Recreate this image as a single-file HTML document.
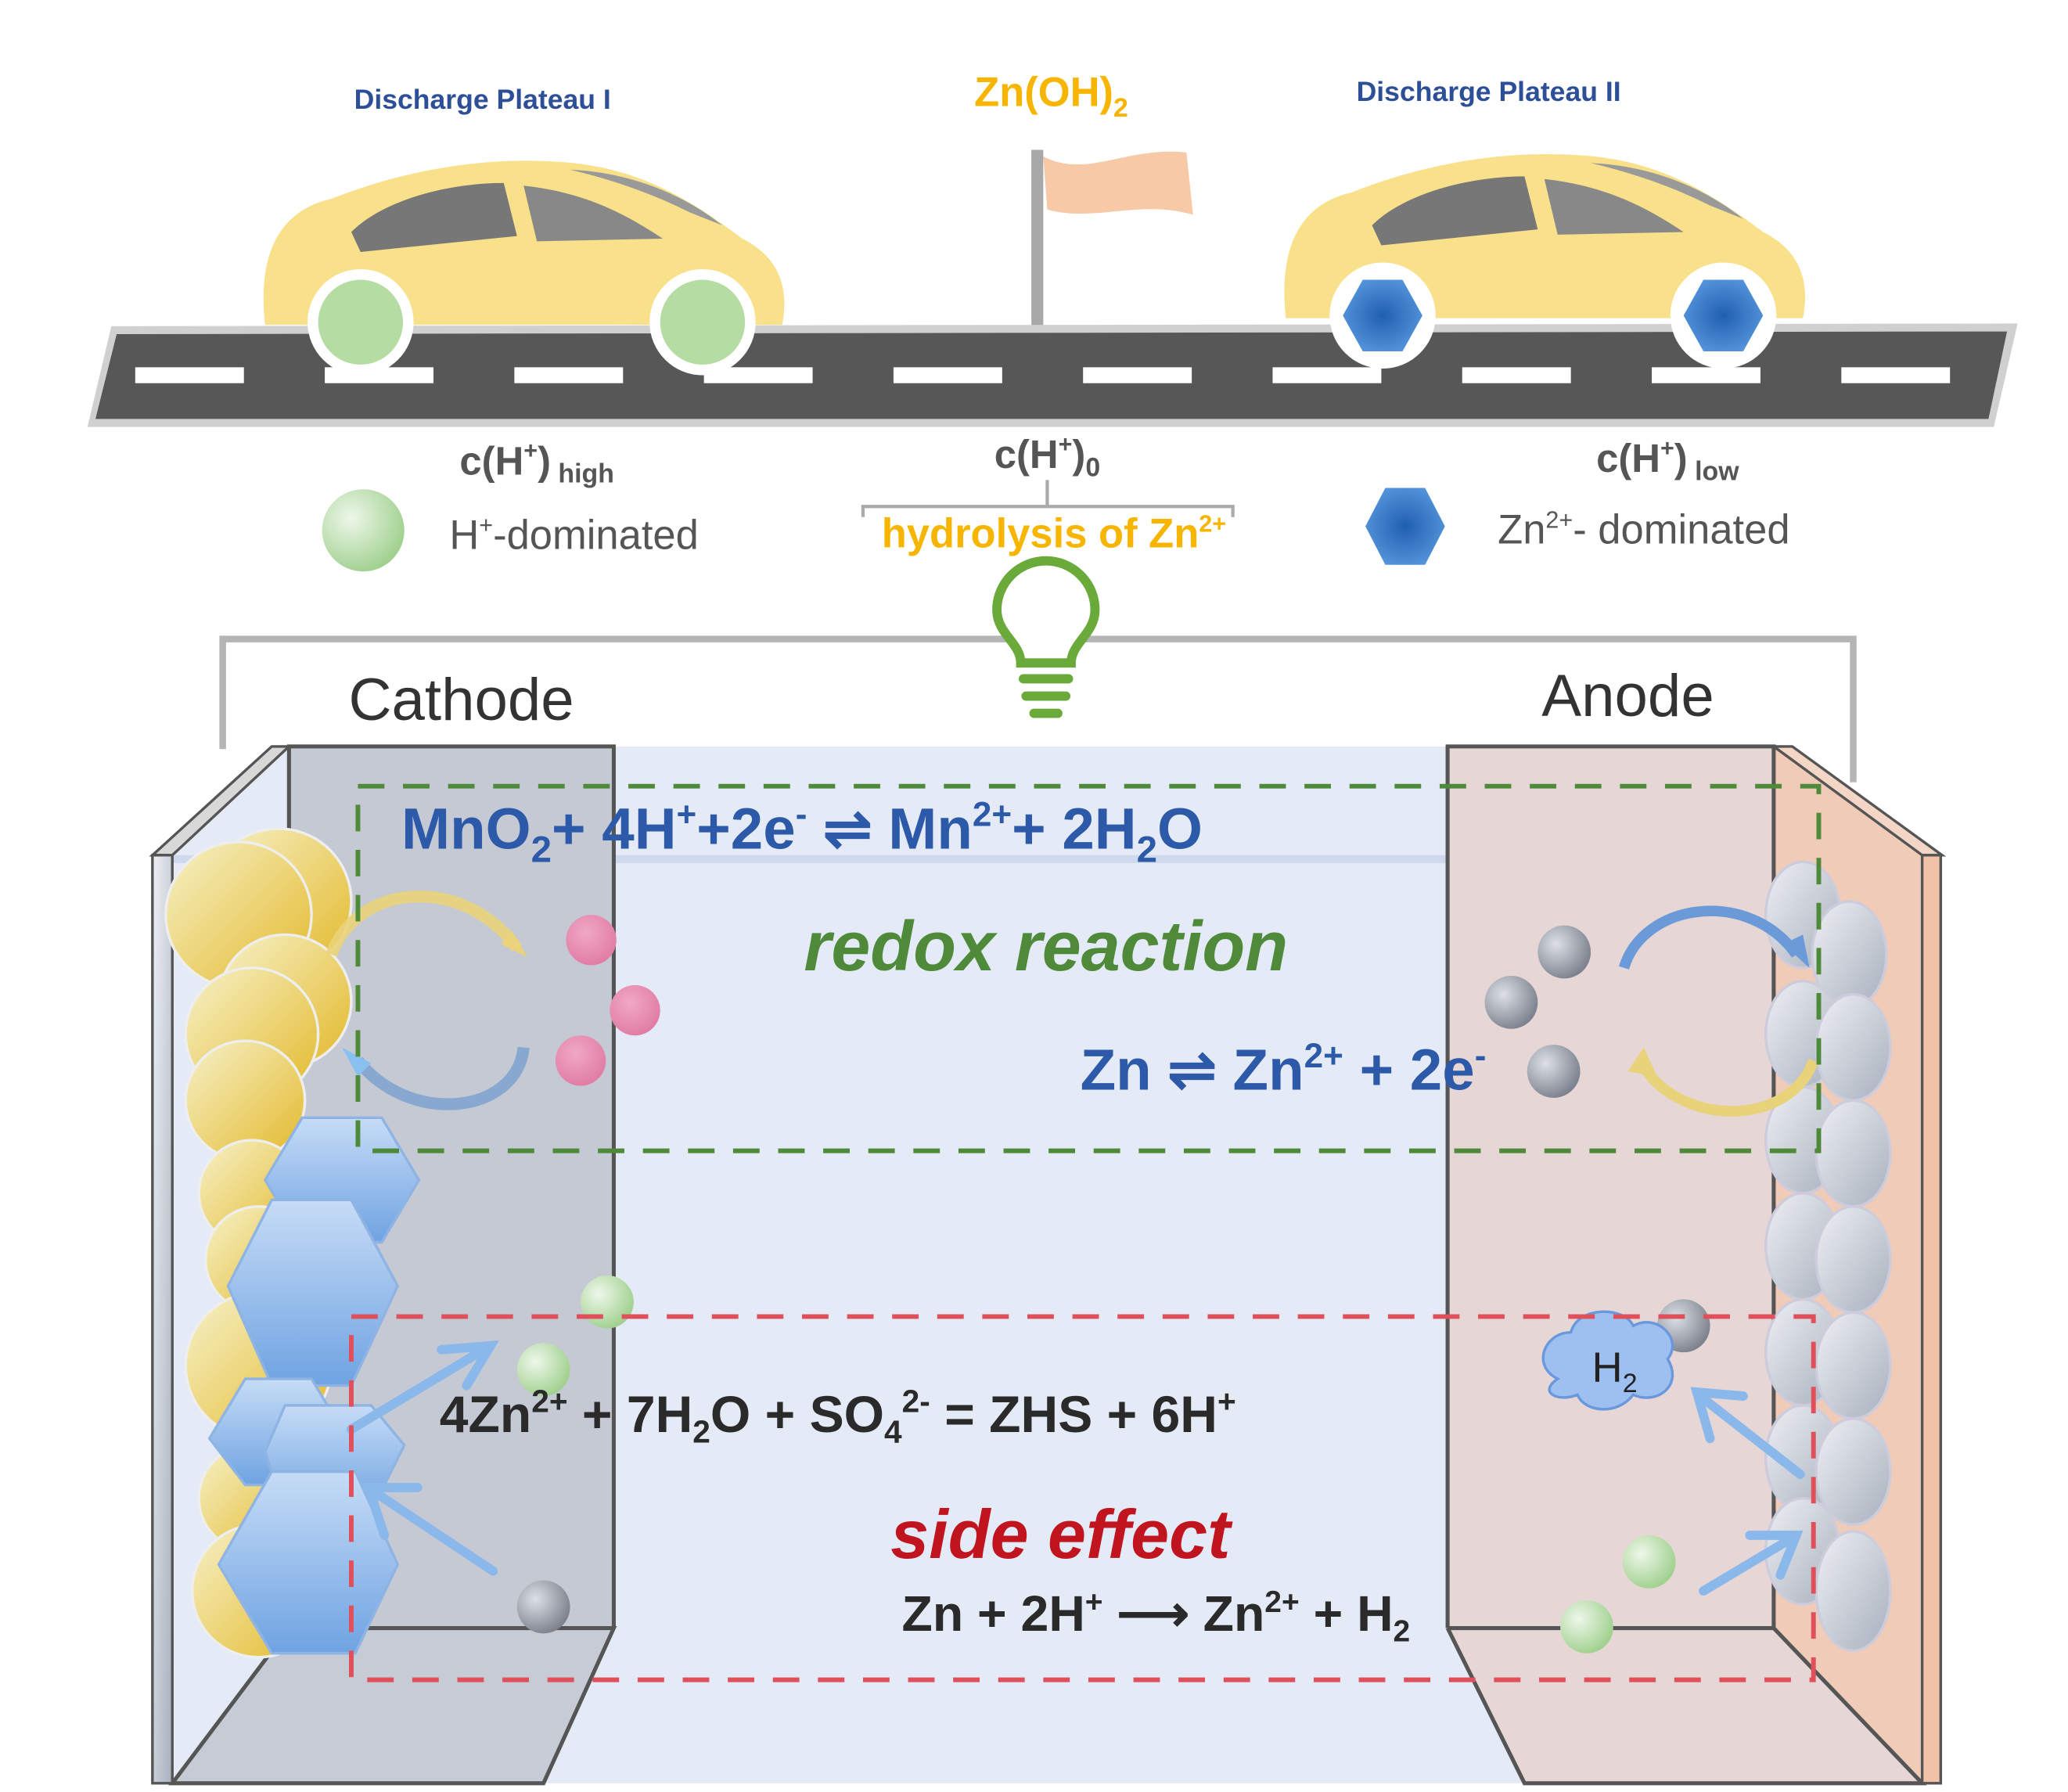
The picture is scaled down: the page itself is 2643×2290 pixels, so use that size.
<!DOCTYPE html>
<html><head><meta charset="utf-8"><style>
html,body{margin:0;padding:0;background:#fff;}
svg{display:block;}
text{font-family:"Liberation Sans",Arial,sans-serif;}
</style></head><body>
<svg width="2643" height="2290" viewBox="0 0 1560 1351.6" xmlns="http://www.w3.org/2000/svg">
<defs>
<radialGradient id="gG" cx="0.35" cy="0.35" r="0.7"><stop offset="0" stop-color="#eef7ea"/><stop offset="1" stop-color="#9fd08d"/></radialGradient>
<radialGradient id="gB" cx="0.5" cy="0.5" r="0.6"><stop offset="0" stop-color="#1f5fb0"/><stop offset="1" stop-color="#5a9ae0"/></radialGradient>
<radialGradient id="gP" cx="0.4" cy="0.35" r="0.7"><stop offset="0" stop-color="#f0a8c4"/><stop offset="1" stop-color="#e07aa4"/></radialGradient>
<radialGradient id="gK" cx="0.35" cy="0.35" r="0.7"><stop offset="0" stop-color="#dde0e6"/><stop offset="1" stop-color="#7a808c"/></radialGradient>
<linearGradient id="hexG" x1="0" y1="0" x2="0" y2="1"><stop offset="0" stop-color="#c6dcf6"/><stop offset="1" stop-color="#6fa3e2"/></linearGradient>
<linearGradient id="yel" x1="0" y1="0" x2="1" y2="1"><stop offset="0" stop-color="#f6f1c8"/><stop offset="1" stop-color="#e3b92a"/></linearGradient>
<linearGradient id="grs" x1="0" y1="0" x2="1" y2="1"><stop offset="0" stop-color="#eef0f4"/><stop offset="1" stop-color="#a8b0bd"/></linearGradient>
</defs>

<text x="364" y="82" font-size="21" font-weight="bold" fill="#2d4f98" text-anchor="middle">Discharge Plateau I</text>
<text x="793" y="80" font-size="31" font-weight="bold" fill="#f7b500" text-anchor="middle">Zn(OH)<tspan font-size="20" dy="8">2</tspan></text>
<text x="1123" y="76" font-size="21" font-weight="bold" fill="#2d4f98" text-anchor="middle">Discharge Plateau II</text>

<rect x="778" y="113" width="9" height="137" fill="#a8a8a8"/>
<path d="M787,118 C820,135 850,110 895,115 L900,162 C860,150 825,168 790,158 Z" fill="#f7c9a6"/>

<polygon points="66,322 84,246 1522,244 1504,322" fill="#d0d0d0"/>
<polygon points="72,316 88,252 1514,250 1500,316" fill="#575757"/>
<g fill="#fff">
<rect x="102" y="277" width="82" height="12"/><rect x="245" y="277" width="82" height="12"/><rect x="388" y="277" width="82" height="12"/><rect x="531" y="277" width="82" height="12"/><rect x="674" y="277" width="82" height="12"/><rect x="817" y="277" width="82" height="12"/><rect x="960" y="277" width="82" height="12"/><rect x="1103" y="277" width="82" height="12"/><rect x="1246" y="277" width="82" height="12"/><rect x="1389" y="277" width="82" height="12"/>
</g>

<g>
<path d="M200,245 C195,200 205,160 250,150 C300,130 360,118 420,122 C480,125 520,150 560,180 C590,195 595,220 590,245 Z" fill="#f9e08a"/>
<path d="M265,175 C290,150 340,138 380,138 L390,178 L272,190 Z" fill="#777"/>
<path d="M395,140 C440,145 470,160 500,180 L405,182 Z" fill="#888"/>
<path d="M430,128 C480,130 520,150 545,170 L520,160 C490,145 460,135 430,128Z" fill="#999"/>
<circle cx="272" cy="243" r="40" fill="#fff"/><circle cx="272" cy="243" r="32" fill="#b5dca2"/>
<circle cx="530" cy="243" r="40" fill="#fff"/><circle cx="530" cy="243" r="32" fill="#b5dca2"/>
</g>
<g>
<path d="M970,240 C965,195 975,155 1020,145 C1070,125 1130,113 1190,117 C1250,120 1290,145 1330,175 C1360,190 1365,215 1360,240 Z" fill="#f9e08a"/>
<path d="M1035,170 C1060,145 1110,133 1150,133 L1160,173 L1042,185 Z" fill="#777"/>
<path d="M1165,135 C1210,140 1240,155 1270,175 L1175,177 Z" fill="#888"/>
<path d="M1200,123 C1250,125 1290,145 1315,165 L1290,155 C1260,140 1230,130 1200,123Z" fill="#999"/>
<circle cx="1043" cy="238" r="40" fill="#fff"/>
<polygon points="1013,238 1028,211 1058,211 1073,238 1058,265 1028,265" fill="url(#gB)"/>
<circle cx="1300" cy="238" r="40" fill="#fff"/>
<polygon points="1270,238 1285,211 1315,211 1330,238 1315,265 1285,265" fill="url(#gB)"/>
</g>

<text x="405" y="358" font-size="30" font-weight="bold" fill="#555" text-anchor="middle">c(H<tspan font-size="18" dy="-12">+</tspan><tspan dy="12">)</tspan><tspan font-size="20" dy="6"> high</tspan></text>
<circle cx="274" cy="400" r="31" fill="url(#gG)"/>
<text x="433" y="414" font-size="31" fill="#555" text-anchor="middle">H<tspan font-size="18" dy="-12">+</tspan><tspan dy="12">-dominated</tspan></text>
<text x="790" y="353" font-size="30" font-weight="bold" fill="#555" text-anchor="middle">c(H<tspan font-size="18" dy="-12">+</tspan><tspan dy="12">)</tspan><tspan font-size="20" dy="6">0</tspan></text>
<path d="M651,390 L651,382 L930,382 L930,390 M790,382 L790,362" stroke="#aaa" stroke-width="2.5" fill="none"/>
<text x="795" y="413" font-size="31" font-weight="bold" fill="#f7b500" text-anchor="middle">hydrolysis of Zn<tspan font-size="18" dy="-12">2+</tspan></text>
<text x="1258" y="356" font-size="30" font-weight="bold" fill="#555" text-anchor="middle">c(H<tspan font-size="18" dy="-12">+</tspan><tspan dy="12">)</tspan><tspan font-size="20" dy="6"> low</tspan></text>
<polygon points="1030,397 1045,368 1075,368 1090,397 1075,426 1045,426" fill="url(#gB)"/>
<text x="1240" y="410" font-size="31" fill="#555" text-anchor="middle">Zn<tspan font-size="18" dy="-12">2+</tspan><tspan dy="12">- dominated</tspan></text>

<path d="M168,565 L168,482 L1398,482 L1398,590" stroke="#b5b5b5" stroke-width="5" fill="none"/>
<path d="M770,500 C770,485 752,478 752,460 A37,37 0 1 1 826,460 C826,478 808,485 808,500 Z" fill="#fff" stroke="#6aaa3a" stroke-width="7"/>
<g stroke="#6aaa3a" stroke-width="7" stroke-linecap="round"><line x1="772" y1="512" x2="806" y2="512"/><line x1="774" y1="525" x2="804" y2="525"/><line x1="780" y1="538" x2="798" y2="538"/></g>

<text x="348" y="543" font-size="45" fill="#333" text-anchor="middle">Cathode</text>
<text x="1228" y="540" font-size="45" fill="#333" text-anchor="middle">Anode</text>

<polygon points="218,563 1340,563 1450,645 1450,1345 130,1345 130,645" fill="#e4eaf6"/>
<rect x="130" y="645" width="1320" height="6" fill="#cfd9ee"/>
<polygon points="218,563 463,563 463,1228 410,1345 130,1345 218,1228" fill="#c4c9d4"/>
<polygon points="130,1345 218,1228 463,1228 410,1345" fill="#c6cbd6" stroke="#555" stroke-width="3"/>
<polyline points="218,1228 218,563 463,563 463,1228" fill="none" stroke="#555" stroke-width="3"/>
<polygon points="115,645 205,563 218,563 130,645" fill="#d8d8d8" stroke="#555" stroke-width="2"/>
<rect x="115" y="645" width="15" height="700" fill="url(#grs)" stroke="#555" stroke-width="2"/>
<polygon points="1092,563 1338,563 1450,645 1450,1345 1150,1345 1092,1228" fill="#e6d6d6"/>
<polygon points="1338,563 1450,645 1450,1345 1338,1228" fill="#f0cbb8"/>
<polyline points="1092,1228 1092,563 1338,563 1338,1228" fill="none" stroke="#555" stroke-width="3"/>
<polyline points="1092,1228 1338,1228 1450,1345 1150,1345 1092,1228" fill="none" stroke="#555" stroke-width="3"/>
<polygon points="1338,563 1352,563 1465,645 1450,645" fill="#f4d6c6" stroke="#555" stroke-width="2"/>
<rect x="1450" y="645" width="14" height="700" fill="#f0c2a8" stroke="#555" stroke-width="2"/>

<g stroke="#eee" stroke-width="2" fill="url(#yel)">
<circle cx="210" cy="680" r="55"/><circle cx="180" cy="690" r="55"/><circle cx="215" cy="755" r="50"/><circle cx="190" cy="780" r="50"/><circle cx="185" cy="830" r="45"/><circle cx="190" cy="900" r="40"/><circle cx="195" cy="950" r="40"/><circle cx="195" cy="1030" r="55"/><circle cx="190" cy="1130" r="40"/><circle cx="195" cy="1200" r="50"/>
</g>
<g fill="url(#hexG)" stroke="#8fb4e4" stroke-width="2">
<polygon points="200,890 228,843 288,843 316,890 288,937 228,937"/>
<polygon points="172,970 205,905 265,905 300,970 265,1045 205,1045"/>
<polygon points="158,1085 185,1040 235,1040 262,1085 235,1120 185,1120"/>
<polygon points="200,1095 215,1060 280,1060 305,1090 280,1140 215,1140"/>
<polygon points="165,1180 205,1110 268,1110 300,1180 268,1247 205,1247"/>
</g>
<path d="M250,720 C270,665 350,660 390,715" stroke="#ead37a" stroke-width="9" fill="none" opacity="0.9"/>
<polygon points="378,712 398,722 386,702" fill="#ead37a"/>
<path d="M395,790 C390,840 310,850 270,800" stroke="#88a8d0" stroke-width="9" fill="none"/>
<polygon points="258,790 280,802 270,812" fill="#88c0ef"/>
<circle cx="446" cy="709" r="19" fill="url(#gP)"/><circle cx="479" cy="762" r="19" fill="url(#gP)"/><circle cx="438" cy="800" r="19" fill="url(#gP)"/>

<g fill="url(#grs)" stroke="#ccd" stroke-width="2">
<ellipse cx="1360" cy="690" rx="28" ry="40"/><ellipse cx="1395" cy="720" rx="28" ry="40"/><ellipse cx="1360" cy="780" rx="28" ry="40"/><ellipse cx="1398" cy="790" rx="28" ry="40"/><ellipse cx="1360" cy="860" rx="28" ry="40"/><ellipse cx="1398" cy="870" rx="28" ry="40"/><ellipse cx="1360" cy="940" rx="28" ry="40"/><ellipse cx="1398" cy="950" rx="28" ry="40"/><ellipse cx="1360" cy="1020" rx="28" ry="40"/><ellipse cx="1398" cy="1030" rx="28" ry="40"/><ellipse cx="1360" cy="1100" rx="28" ry="40"/><ellipse cx="1398" cy="1110" rx="28" ry="40"/><ellipse cx="1360" cy="1170" rx="28" ry="40"/><ellipse cx="1398" cy="1200" rx="28" ry="45"/>
</g>
<path d="M1225,730 C1240,680 1320,670 1355,720" stroke="#6a9ad8" stroke-width="8" fill="none"/>
<polygon points="1345,712 1365,730 1360,705" fill="#6a9ad8"/>
<path d="M1368,800 C1350,850 1270,850 1240,805" stroke="#e8d37a" stroke-width="8" fill="none"/>
<polygon points="1228,808 1240,790 1250,812" fill="#e8d37a"/>
<circle cx="1180" cy="718" r="20" fill="url(#gK)"/><circle cx="1140" cy="756" r="20" fill="url(#gK)"/><circle cx="1172" cy="808" r="20" fill="url(#gK)"/>

<rect x="270" y="593" width="1102" height="275" fill="none" stroke="#4f8a3a" stroke-width="3.5" stroke-dasharray="20,14"/>
<text x="605" y="640" font-size="44" font-weight="bold" fill="#2d5aa8" text-anchor="middle">MnO<tspan font-size="28" dy="10">2</tspan><tspan dy="-10">+ 4H</tspan><tspan font-size="26" dy="-17">+</tspan><tspan dy="17">+2e</tspan><tspan font-size="26" dy="-17">-</tspan><tspan dy="17"> ⇌ Mn</tspan><tspan font-size="26" dy="-17">2+</tspan><tspan dy="17">+ 2H</tspan><tspan font-size="28" dy="10">2</tspan><tspan dy="-10">O</tspan></text>
<text x="789" y="732" font-size="53" font-weight="bold" font-style="italic" fill="#4f8a3a" text-anchor="middle">redox reaction</text>
<text x="968" y="822" font-size="44" font-weight="bold" fill="#2d5aa8" text-anchor="middle">Zn ⇌ Zn<tspan font-size="26" dy="-17">2+</tspan><tspan dy="17"> + 2e</tspan><tspan font-size="26" dy="-17">-</tspan></text>

<circle cx="458" cy="982" r="20" fill="url(#gG)"/><circle cx="410" cy="1033" r="20" fill="url(#gG)"/>
<circle cx="410" cy="1212" r="20" fill="url(#gK)"/>
<g stroke="#8bb8ea" stroke-width="7" fill="none" stroke-linecap="round">
<line x1="265" y1="1078" x2="365" y2="1018"/><polyline points="333,1018 370,1015 352,1045"/>
<line x1="372" y1="1185" x2="282" y2="1125"/><polyline points="290,1158 278,1122 315,1122"/>
<line x1="1358" y1="1112" x2="1285" y2="1055"/><polyline points="1290,1085 1280,1050 1315,1053"/>
<line x1="1285" y1="1200" x2="1352" y2="1160"/><polyline points="1320,1158 1355,1158 1343,1188"/>
</g>
<circle cx="1270" cy="1000" r="20" fill="url(#gK)"/>
<circle cx="1244" cy="1178" r="20" fill="url(#gG)"/><circle cx="1197" cy="1227" r="20" fill="url(#gG)"/>
<path d="M1175,1040 C1155,1030 1165,1005 1185,1005 C1190,985 1225,985 1232,1000 C1250,990 1270,1010 1258,1025 C1270,1045 1250,1060 1232,1052 C1220,1068 1195,1065 1190,1052 C1175,1058 1160,1050 1175,1040 Z" fill="#9dc0f0" stroke="#6a98dc" stroke-width="2"/>
<text x="1218" y="1042" font-size="32" fill="#222" text-anchor="middle">H<tspan font-size="20" dy="8">2</tspan></text>
<rect x="265" y="993" width="1103" height="274" fill="none" stroke="#e0505a" stroke-width="3.5" stroke-dasharray="20,14"/>
<text x="632" y="1080" font-size="39" font-weight="bold" fill="#2a2a2a" text-anchor="middle">4Zn<tspan font-size="24" dy="-15">2+</tspan><tspan dy="15"> + 7H</tspan><tspan font-size="24" dy="8">2</tspan><tspan dy="-8">O + SO</tspan><tspan font-size="24" dy="8">4</tspan><tspan font-size="24" dy="-23">2-</tspan><tspan dy="15"> = ZHS + 6H</tspan><tspan font-size="24" dy="-15">+</tspan></text>
<text x="800" y="1175" font-size="52" font-weight="bold" font-style="italic" fill="#c0141e" text-anchor="middle">side effect</text>
<text x="872" y="1230" font-size="38" font-weight="bold" fill="#2a2a2a" text-anchor="middle">Zn + 2H<tspan font-size="23" dy="-14">+</tspan><tspan dy="14"> ⟶ Zn</tspan><tspan font-size="23" dy="-14">2+</tspan><tspan dy="14"> + H</tspan><tspan font-size="23" dy="8">2</tspan></text>
</svg>
</body></html>
